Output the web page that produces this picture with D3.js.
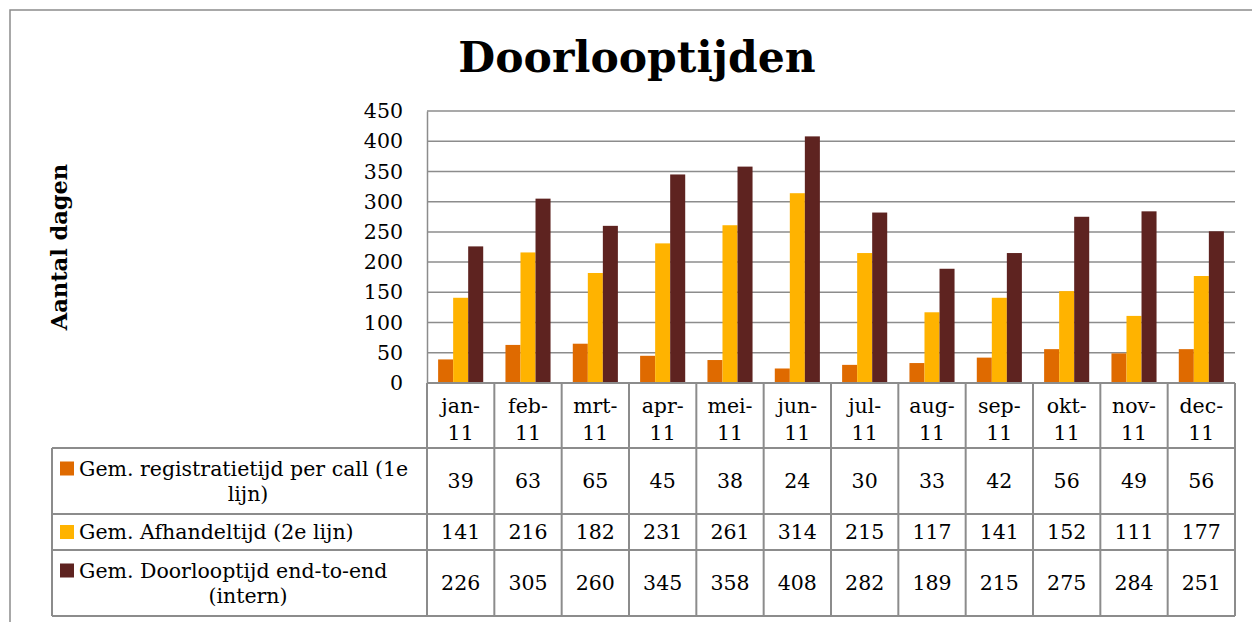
<!DOCTYPE html>
<html>
<head>
<meta charset="utf-8">
<script src="https://cdn.jsdelivr.net/npm/d3@7"></script>
<style>
  body { margin: 0; background: #fff; }
  svg text { font-family: Georgia, "DejaVu Serif", serif; fill: #000; }
</style>
</head>
<body>
<svg id="chart" width="1252" height="622"></svg>
<script>
// chart data
const months = ["jan-11", "feb-11", "mrt-11", "apr-11", "mei-11", "jun-11",
                "jul-11", "aug-11", "sep-11", "okt-11", "nov-11", "dec-11"];
const registratie = [39, 63, 65, 45, 38, 24, 30, 33, 42, 56, 49, 56];
const afhandel = [141, 216, 182, 231, 261, 314, 215, 117, 141, 152, 111, 177];
const doorloop = [226, 305, 260, 345, 358, 408, 282, 189, 215, 275, 284, 251];
const seriesNames = [
  ["Gem. registratietijd per call (1e", "lijn)"],
  ["Gem. Afhandeltijd (2e lijn)"],
  ["Gem. Doorlooptijd end-to-end", "(intern)"]
];
const seriesColors = ["#DF6A00", "#FFB300", "#5E2320"];
const yTicks = [0, 50, 100, 150, 200, 250, 300, 350, 400, 450];

const series = [registratie, afhandel, doorloop];

const svg = d3.select("#chart");
const gridColor = "#8c8c8c";
const fs = "20.5px";

// outer chart frame
svg.append("path")
  .attr("d", "M10,622 L10,10 L1252,10")
  .attr("fill", "none")
  .attr("stroke", gridColor)
  .attr("stroke-width", 1.5);

const plotLeft = 427, plotRight = 1235, plotTop = 111, plotBottom = 383;
const tableLeft = 52;
const rowTops = [383, 448, 514, 550, 616];

const x = d3.scaleBand().domain(months).range([plotLeft, plotRight]);
const xInner = d3.scaleBand().domain(d3.range(3))
  .range([0, x.bandwidth()]).paddingInner(0).paddingOuter(0.74);
const y = d3.scaleLinear().domain([0, 450]).range([plotBottom, plotTop]);

// title
svg.append("text")
  .attr("x", 637).attr("y", 72)
  .attr("text-anchor", "middle")
  .style("font-size", "42.5px").style("font-weight", "bold")
  .text("Doorlooptijden");

// y axis title
svg.append("text")
  .attr("transform", `translate(67,${(plotTop + plotBottom) / 2}) rotate(-90)`)
  .attr("text-anchor", "middle")
  .style("font-size", "22.5px").style("font-weight", "bold")
  .text("Aantal dagen");

// gridlines
svg.append("g").selectAll("line")
  .data(yTicks.filter(d => d > 0))
  .join("line")
  .attr("x1", plotLeft).attr("x2", plotRight)
  .attr("y1", d => y(d)).attr("y2", d => y(d))
  .attr("stroke", gridColor).attr("stroke-width", 1.5);

// y axis
const yAxis = svg.append("g")
  .attr("transform", `translate(${plotLeft},0)`)
  .call(d3.axisLeft(y).tickValues(yTicks).tickSize(0).tickPadding(24));
yAxis.select(".domain").attr("stroke", gridColor).attr("stroke-width", 1.5);
yAxis.selectAll(".tick text")
  .style("font-size", fs)
  .attr("font-family", null);

// bars
const groups = svg.append("g").selectAll("g")
  .data(months)
  .join("g")
  .attr("transform", d => `translate(${x(d)},0)`);

groups.selectAll("rect")
  .data((m, i) => series.map((s, k) => ({ k, v: s[i] })))
  .join("rect")
  .attr("x", d => xInner(d.k))
  .attr("width", xInner.bandwidth())
  .attr("y", d => y(d.v))
  .attr("height", d => y(0) - y(d.v))
  .attr("fill", d => seriesColors[d.k]);

// data table
const tbl = svg.append("g")
  .attr("fill", "none")
  .attr("stroke", gridColor)
  .attr("stroke-width", 2);

// horizontal lines
rowTops.forEach((ry, i) => {
  tbl.append("line")
    .attr("x1", i === 0 ? plotLeft : tableLeft).attr("x2", plotRight)
    .attr("y1", ry).attr("y2", ry);
});
// vertical lines
tbl.append("line")
  .attr("x1", tableLeft).attr("x2", tableLeft)
  .attr("y1", rowTops[1]).attr("y2", rowTops[4]);
months.forEach(m => {
  tbl.append("line")
    .attr("x1", x(m)).attr("x2", x(m))
    .attr("y1", rowTops[0]).attr("y2", rowTops[4]);
});
tbl.append("line")
  .attr("x1", plotRight).attr("x2", plotRight)
  .attr("y1", rowTops[0]).attr("y2", rowTops[4]);

// month labels
svg.append("g").selectAll("text")
  .data(months)
  .join("text")
  .attr("text-anchor", "middle")
  .style("font-size", fs)
  .each(function (m) {
    const parts = m.split("-");
    const t = d3.select(this);
    const cx = x(m) + x.bandwidth() / 2;
    t.append("tspan").attr("x", cx).attr("y", 413).text(parts[0] + "-");
    t.append("tspan").attr("x", cx).attr("y", 440).text(parts[1]);
  });

// legend cells + values
series.forEach((s, k) => {
  const top = rowTops[k + 1], bottom = rowTops[k + 2];
  const mid = (top + bottom) / 2;
  const lines = seriesNames[k];
  const lineH = 25;
  const firstBase = mid + 7 - (lines.length - 1) * lineH / 2;

  svg.append("rect")
    .attr("x", 60).attr("y", firstBase - 14)
    .attr("width", 14).attr("height", 14)
    .attr("fill", seriesColors[k]);

  const lt = svg.append("text")
    .style("font-size", fs);
  lines.forEach((ln, j) => {
    lt.append("tspan")
      .attr("x", j === 0 ? 79 : 248)
      .attr("text-anchor", j === 0 ? "start" : "middle")
      .attr("y", firstBase + j * lineH)
      .text(ln);
  });

  svg.append("g").selectAll("text")
    .data(s)
    .join("text")
    .attr("x", (d, i) => x(months[i]) + x.bandwidth() / 2)
    .attr("y", mid + 7)
    .attr("text-anchor", "middle")
    .style("font-size", fs)
    .text(d => d);
});
</script>
</body>
</html>
